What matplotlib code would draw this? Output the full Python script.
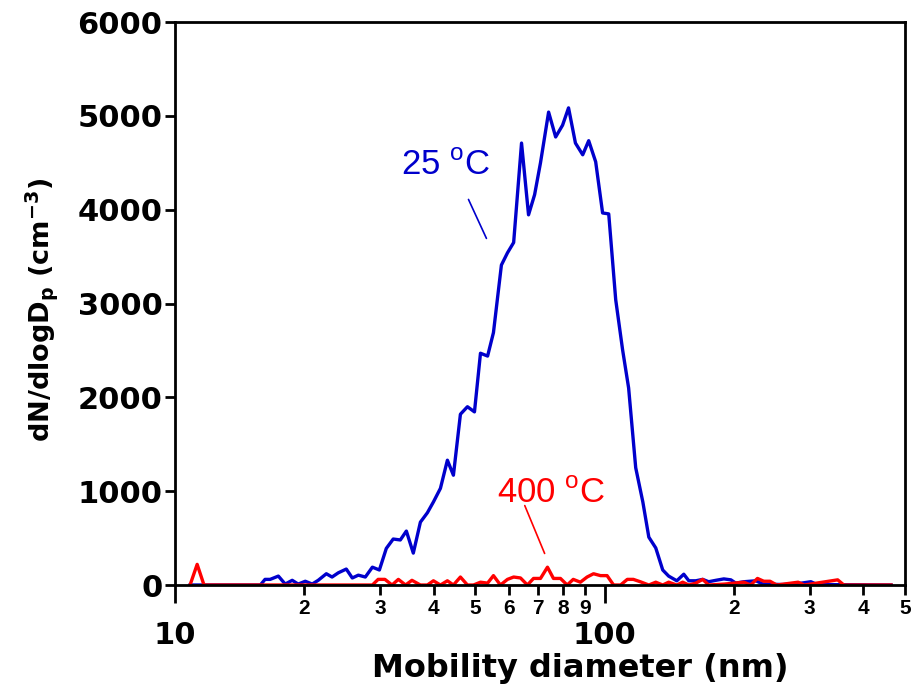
import matplotlib.pyplot as plt
from matplotlib.ticker import FixedLocator, FixedFormatter

# 粒径分布：25 °C 与 400 °C 对比

plt.rcParams['font.family'] = ['DejaVu Sans']
plt.rcParams['mathtext.fontset'] = 'custom'
plt.rcParams['mathtext.rm'] = 'Liberation Sans'
plt.rcParams['mathtext.bf'] = 'DejaVu Sans:bold'

# 25 °C 数据 (nm, cm^-3)
diam_25 = [10.84, 15.8, 16.2, 16.65, 17.4, 18.05, 18.74, 19.35, 20.1, 20.86,
           21.54, 22.5, 23.2, 23.99, 25.04, 25.86, 26.71, 27.73, 28.8, 29.9,
           31.03, 32.2, 33.45, 34.55, 35.86, 37.25, 38.67, 39.94, 41.47, 43.05,
           44.46, 46.16, 47.93, 49.77, 51.4, 53.4, 55.1, 57.5, 59.4, 61.4,
           64.05, 66.5, 68.7, 70.9, 74.05, 76.9, 79.8, 82.4, 85.5, 88.9,
           91.8, 95.3, 98.9, 102.2, 106.1, 110.1, 113.7, 118.1, 122.7, 126.7,
           131.5, 136.5, 140.9, 147.2, 152.8, 157.0, 163.0, 169.1, 174.6, 181.5,
           189.4, 196.7, 201.9, 210.9, 224.9, 233.5, 260.0, 282.0, 302.0, 312.0,
           464.0]
conc_25 = [0, 0, 60, 60, 95, 10, 50, 10, 40, 10,
           50, 120, 85, 130, 170, 75, 105, 85, 190, 160,
           390, 490, 480, 575, 340, 670, 770, 885, 1030, 1330,
           1170, 1820, 1900, 1845, 2470, 2440, 2690, 3410, 3540, 3650,
           4710, 3945, 4160, 4500, 5040, 4775, 4900, 5085, 4710, 4585,
           4735, 4510, 3965, 3955, 3040, 2505, 2100, 1250, 885, 510,
           395, 160, 95, 45, 115, 45, 45, 60, 35, 50,
           65, 55, 20, 35, 45, 10, 5, 15, 35, 5,
           0]

# 400 °C 数据
diam_400 = [10.84, 11.26, 11.68, 28.8, 29.7, 30.8, 32.0, 33.1, 34.4, 35.6,
            37.25, 38.67, 39.94, 41.47, 43.05, 44.46, 46.16, 47.93, 49.5, 51.4,
            53.4, 55.1, 57.2, 59.4, 61.4, 63.7, 66.1, 68.3, 70.9, 73.6,
            76.0, 78.9, 81.8, 84.5, 87.8, 91.0, 94.2, 97.8, 101.3, 104.9,
            108.9, 112.9, 116.6, 121.0, 126.7, 131.5, 136.5, 140.9, 147.2, 151.9,
            157.0, 163.0, 169.1, 174.6, 190.0, 210.9, 218.7, 226.8, 234.6, 242.6,
            251.5, 282.0, 291.5, 348.6, 360.3, 464.0]
conc_400 = [0, 220, 0, 0, 60, 60, 0, 60, 0, 50,
            0, 0, 45, 0, 45, 0, 85, 0, 0, 30,
            20, 100, 0, 60, 85, 75, 0, 70, 70, 190,
            70, 70, 0, 60, 30, 85, 120, 100, 100, 0,
            0, 60, 60, 35, 0, 30, 0, 30, 0, 30,
            0, 20, 60, 0, 10, 30, 0, 70, 40, 40,
            0, 30, 0, 55, 0, 0]

major_ticks = [10, 100]
major_labels = ['10', '100']
minor_ticks = [20, 30, 40, 50, 60, 70, 80, 90, 200, 300, 400, 500]
minor_labels = ['2', '3', '4', '5', '6', '7', '8', '9', '2', '3', '4', '5']
y_ticks = [0, 1000, 2000, 3000, 4000, 5000, 6000]

fig = plt.figure(figsize=(9.12, 6.88), dpi=100)
ax = fig.add_axes([0.1919, 0.1497, 0.8004, 0.8183])

ax.plot(diam_25, conc_25, color='#0000CC', lw=2.4)
ax.plot(diam_400, conc_400, color='#FF0000', lw=2.4)

ax.set_xscale('log')
ax.set_xlim(10, 500)
ax.set_ylim(0, 6000)

# 坐标轴刻度
ax.xaxis.set_major_locator(FixedLocator(major_ticks))
ax.xaxis.set_major_formatter(FixedFormatter(major_labels))
ax.xaxis.set_minor_locator(FixedLocator(minor_ticks))
ax.xaxis.set_minor_formatter(FixedFormatter(minor_labels))
ax.set_yticks(y_ticks)

ax.tick_params(axis='x', which='major', direction='out', length=13, width=2,
               pad=13, labelsize=22)
ax.tick_params(axis='x', which='minor', direction='out', length=7, width=2,
               pad=3, labelsize=15)
ax.tick_params(axis='y', which='major', direction='out', length=7, width=2,
               pad=2, labelsize=22)
for lab in ax.get_xticklabels() + ax.get_yticklabels():
    lab.set_fontweight('bold')
for lab in ax.get_xticklabels(minor=True):
    lab.set_fontweight('bold')
    lab.set_family('Liberation Sans')
for sp in ax.spines.values():
    sp.set_linewidth(2)

ax.set_xlabel('Mobility diameter (nm)', fontsize=23, fontweight='bold')
ax.xaxis.set_label_coords((580 - 175) / 730, -(668 - 585) / 563, transform=ax.transAxes)
ax.xaxis.label.set_va('center')
ax.set_ylabel(r'dN/dlogD$_\mathbf{p}$ (cm$^\mathbf{-3}$)', fontsize=19.5,
              fontweight='bold')
ax.yaxis.set_label_coords(-(175 - 42) / 730, (585 - 310) / 563, transform=ax.transAxes)
ax.yaxis.label.set_va('center')

# 标注
ax.text(33.5, 4370, r'25 $^\mathrm{o}$C', color='#0000CC', fontsize=25,
        family='Liberation Sans')
ax.annotate('', xy=(53.4, 3667), xytext=(47.9, 4136),
            arrowprops=dict(arrowstyle='-', color='#0000CC', lw=1.2))
ax.text(56.3, 874, r'400 $^\mathrm{o}$C', color='#FF0000', fontsize=25,
        family='Liberation Sans')
ax.annotate('', xy=(72.9, 309), xytext=(64.8, 874),
            arrowprops=dict(arrowstyle='-', color='#FF0000', lw=1.2))

plt.savefig('out.png')
